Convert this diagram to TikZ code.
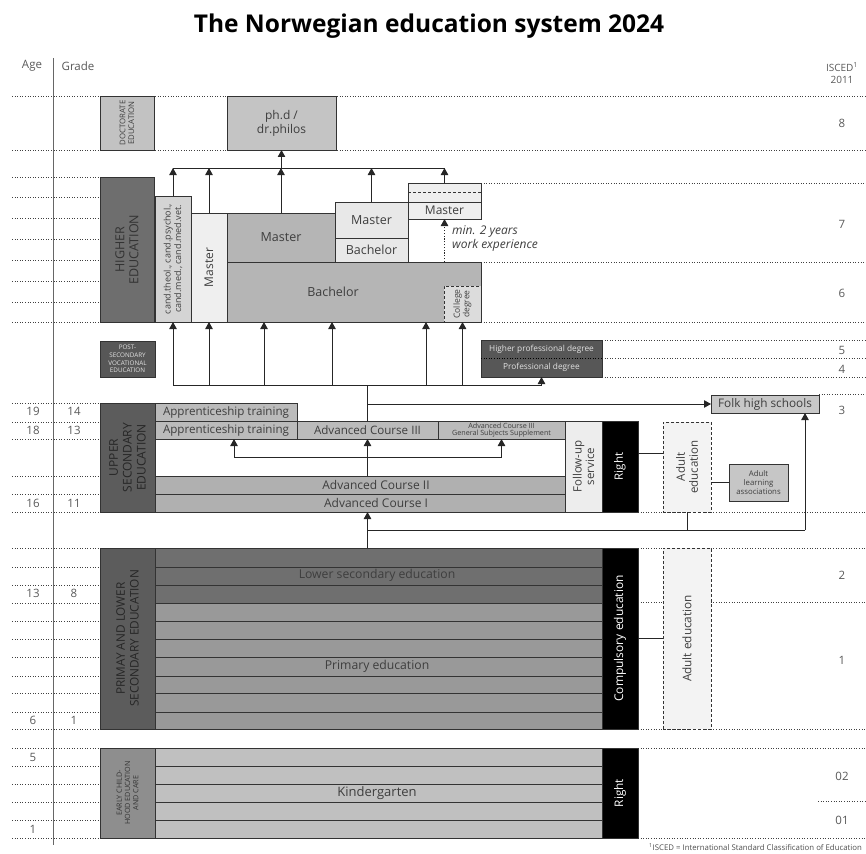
\documentclass[tikz,border=0pt]{standalone}
\usepackage{fontspec}
\setmainfont{Open Sans}
\usetikzlibrary{arrows.meta,fit}
\definecolor{tg}{HTML}{3E3E3E}
\definecolor{tl}{HTML}{E2E2E2}
\definecolor{cdoc}{HTML}{C2C2C2}
\definecolor{cphd}{HTML}{C4C4C4}
\definecolor{chigh}{HTML}{6E6E6E}
\definecolor{ccand}{HTML}{D4D4D4}
\definecolor{cmrot}{HTML}{EFEFEF}
\definecolor{cmast}{HTML}{B5B5B5}
\definecolor{cmb}{HTML}{E8E8E8}
\definecolor{ctr}{HTML}{EEEEEE}
\definecolor{ccol}{HTML}{DCDCDC}
\definecolor{cpost}{HTML}{575757}
\definecolor{cup}{HTML}{5C5C5C}
\definecolor{cappr}{HTML}{BBBBBB}
\definecolor{cadv}{HTML}{B0B0B0}
\definecolor{cfollow}{HTML}{EDEDED}
\definecolor{cadult}{HTML}{F3F3F3}
\definecolor{cassoc}{HTML}{C6C6C6}
\definecolor{cfolk}{HTML}{C8C8C8}
\definecolor{clower}{HTML}{6F6F6F}
\definecolor{cprim}{HTML}{999999}
\definecolor{cearly}{HTML}{8E8E8E}
\definecolor{ckg}{HTML}{C0C0C0}
\begin{document}
\begin{tikzpicture}[x=1pt,y=-1pt,
  box/.style={draw=black!80, line width=0.8pt, inner sep=0pt, outer sep=0pt},
  dbox/.style={box, dash pattern=on 3pt off 2pt},
  t/.style={text=tg, font=\fontsize{11.5}{13.5}\selectfont, align=center, inner sep=0pt},
  rot/.style={t, rotate=90},
  grid/.style={draw=black!75, line width=0.7pt, dash pattern=on 1pt off 1.6pt},
  conn/.style={draw=black!85, line width=0.8pt},
  arr/.style={conn, -{Triangle[width=7.5pt,length=7pt]}},
  rowline/.style={draw=black!80, line width=0.7pt},
  num/.style={text=black!65, font=\fontsize{11.5}{13}\selectfont, inner sep=0pt}
]
\useasboundingbox (0,0) rectangle (866,853);
% ---------- title
\node[font=\bfseries\fontsize{24.5}{28}\selectfont] (title) at (429,26) {The Norwegian education system 2024};
% ---------- headers
\node[num] (hage) at (32,66) {Age};
\node[num] (hgrade) at (78,66) {Grade};
\node[num, align=center, font=\fontsize{10}{12}\selectfont] (hisced) at (842,73) {ISCED\textsuperscript{1}\\2011};
\draw[draw=black!60, line width=1pt] (53,58) -- (53,845);
% ---------- dotted grid
\foreach \y in {177,197,218,239,260,281,302,322,403,422,439,476,494,512,548,567,585,603,621,639,657,676,693,712,729,748,766,784,802,820,838}
  \draw[grid] (12,\y) -- (100,\y);
\foreach \y in {96,150} \draw[grid] (12,\y) -- (866,\y);
\foreach \y in {183,262,322} \draw[grid] (481,\y) -- (866,\y);
\foreach \y in {340,358,377} \draw[grid] (602,\y) -- (866,\y);
\draw[grid] (819,394) -- (866,394);
\foreach \y in {512,548,602,729,748,838} \draw[grid] (638,\y) -- (866,\y);
\draw[grid] (818,801) -- (866,801);
% ---------- age / grade numbers
\node[num] at (33,411) {19}; \node[num] at (74,411) {14};
\node[num] at (33,430) {18}; \node[num] at (74,430) {13};
\node[num] at (33,503) {16}; \node[num] at (74,503) {11};
\node[num] at (33,593) {13}; \node[num] at (74,593) {8};
\node[num] at (33,720) {6};  \node[num] at (74,720) {1};
\node[num] at (33,757) {5};
\node[num] at (33,829) {1};
% ---------- ISCED numbers
\node[num] at (842,123) {8};
\node[num] at (842,224) {7};
\node[num] at (842,293) {6};
\node[num] at (842,350) {5};
\node[num] at (842,369) {4};
\node[num] at (842,410) {3};
\node[num] at (842,575) {2};
\node[num] at (842,660) {1};
\node[num] at (842,776) {02};
\node[num] at (842,820) {01};
% ---------- doctorate
\node[box, fill=cdoc, fit={(100,96)(154,150)}] (doc) {};
\node[rot, font=\fontsize{7.8}{8.8}\selectfont] at (doc) {DOCTORATE\\EDUCATION};
\node[box, fill=cphd, fit={(227,96)(336,150)}] (phd) {};
\node[t, font=\fontsize{12}{14}\selectfont] at (phd) {ph.d /\\dr.philos};
% ---------- higher education
\node[box, fill=chigh, fit={(100,177)(154,322)}] (high) {};
\node[rot, font=\fontsize{12.5}{14}\selectfont, text=black!80] at (high) {HIGHER\\EDUCATION};
\node[box, fill=ccand, fit={(155,196)(191,322)}] (cand) {};
\node[rot, font=\fontsize{9}{10.5}\selectfont] at (cand) {cand.theol., cand.psychol.,\\cand.med., cand.med.vet.};
\node[box, fill=cmrot, fit={(191,213)(227,322)}] (mrot) {};
\node[rot, font=\fontsize{12}{14}\selectfont] at (mrot) {Master};
\node[box, fill=cmast, fit={(227,262)(481,322)}] (bach) {};
\node[t, font=\fontsize{12.5}{14}\selectfont] at (333,292) {Bachelor};
\node[box, fill=cmast, fit={(227,213)(335,262)}] (mast) {};
\node[t, font=\fontsize{12.5}{14}\selectfont] at (mast) {Master};
\node[box, fill=cmb, fit={(335,202)(408,238)}] (mb1) {};
\node[t, font=\fontsize{12.5}{14}\selectfont] at (mb1) {Master};
\node[box, fill=cmb, fit={(335,238)(408,262)}] (mb2) {};
\node[t, font=\fontsize{12.5}{14}\selectfont] at (mb2) {Bachelor};
\node[box, fill=ctr, fit={(408,183)(481,219)}] (tr) {};
\draw[box, dash pattern=on 3pt off 2pt] (408,192.5) -- (481,192.5);
\draw[box] (408,202) -- (481,202);
\node[t, font=\fontsize{12}{13}\selectfont] at (444.5,210.5) {Master};
\node[dbox, fill=ccol, fit={(444,286)(481,322)}] (col) {};
\node[rot, font=\fontsize{8.5}{9.5}\selectfont] at (col) {College\\degree};
\node[t, anchor=north west, align=left, font=\itshape\fontsize{12}{14.5}\selectfont] (minwork) at (452,225) {min. 2 years\\work experience};
% ---------- post-secondary
\node[box, fill=cpost, fit={(100,341)(155,377)}] (post) {};
\node[t, text=tl, font=\fontsize{6.3}{7.6}\selectfont] at (post) {POST-\\SECONDARY\\VOCATIONAL\\EDUCATION};
\node[box, fill=cpost, fit={(481,340)(602,377)}] (hpd) {};
\draw[grid, draw=black] (481,358) -- (602,358);
\node[t, text=tl, font=\fontsize{8.3}{9}\selectfont] at (541.5,349) {Higher professional degree};
\node[t, text=tl, font=\fontsize{8.3}{9}\selectfont] at (541.5,367.5) {Professional degree};
% ---------- upper secondary
\node[box, fill=cup, fit={(100,403)(155,512)}] (upper) {};
\node[rot, font=\fontsize{12}{13.8}\selectfont, text=black!85] at (upper) {UPPER\\SECONDARY\\EDUCATION};
\node[box, fill=cappr, fit={(155,403)(297,421)}] (app1) {};
\node[t, font=\fontsize{11.6}{13}\selectfont] at (app1) {Apprenticeship training};
\node[box, fill=cappr, fit={(155,421)(297,439)}] (app2) {};
\node[t, font=\fontsize{11.6}{13}\selectfont] at (app2) {Apprenticeship training};
\node[box, fill=cappr, fit={(297,421)(438,439)}] (adv3) {};
\node[t, font=\fontsize{11.6}{13}\selectfont] at (adv3) {Advanced Course III};
\node[box, fill=cappr, fit={(438,421)(565,439)}] (gss) {};
\node[t, font=\fontsize{7.2}{7.6}\selectfont] at (gss) {Advanced Course III\\General Subjects Supplement};
\node[box, fill=cadv, fit={(155,476)(565,494)}] (adv2) {};
\node[t, font=\fontsize{12}{13}\selectfont] at (376,485) {Advanced Course II};
\node[box, fill=cadv, fit={(155,494)(565,512)}] (adv1) {};
\node[t, font=\fontsize{12}{13}\selectfont] at (376,503) {Advanced Course I};
\node[box, fill=cfollow, fit={(565,421)(602,512)}] (follow) {};
\node[rot, font=\fontsize{11.5}{12.5}\selectfont] at (follow) {Follow-up\\service};
\node[box, fill=black, fit={(602,421)(638,512)}] (right1) {};
\node[rot, text=white, font=\fontsize{11.5}{13}\selectfont] at (right1) {Right};
\node[dbox, fill=cadult, fit={(663,422)(711,512)}] (adult1) {};
\node[rot, font=\fontsize{11.5}{13}\selectfont] at (adult1) {Adult\\education};
\node[box, fill=cassoc, fit={(729,464)(788,501)}] (assoc) {};
\node[t, font=\fontsize{7.8}{8.6}\selectfont] at (assoc) {Adult\\learning\\associations};
\node[box, fill=cfolk, fit={(711,395)(819,413)}] (folk) {};
\node[t, font=\fontsize{11.8}{13}\selectfont] at (folk) {Folk high schools};
% ---------- primary / lower secondary
\node[box, fill=cup, fit={(100,548)(155,729)}] (prim) {};
\node[rot, font=\fontsize{11.8}{13.8}\selectfont, text=black!85] at (prim) {PRIMAY AND LOWER\\SECONDARY EDUCATION};
\node[box, fill=clower, fit={(155,548)(602,603)}] (lower) {};
\foreach \y in {567,585} \draw[rowline] (155,\y) -- (602,\y);
\node[t, font=\fontsize{12.2}{13}\selectfont] at (377,575.5) {Lower secondary education};
\node[box, fill=cprim, fit={(155,603)(602,729)}] (primary) {};
\foreach \y in {621,639,657,676,693,712} \draw[rowline] (155,\y) -- (602,\y);
\node[t, font=\fontsize{12.2}{13}\selectfont] at (377,666) {Primary education};
\node[box, fill=black, fit={(602,548)(638,729)}] (comp) {};
\node[rot, text=white, font=\fontsize{12}{14}\selectfont] at (comp) {Compulsory education};
\node[dbox, fill=cadult, fit={(663,548)(711,729)}] (adult2) {};
\node[rot, font=\fontsize{11.8}{13}\selectfont] at (adult2) {Adult education};
% ---------- early childhood
\node[box, fill=cearly, fit={(100,748)(155,838)}] (early) {};
\node[rot, font=\fontsize{7.2}{8.2}\selectfont, text=black!80] at (early) {EARLY CHILD-\\HOOD EDUCATION\\AND CARE};
\node[box, fill=ckg, fit={(155,748)(602,838)}] (kg) {};
\foreach \y in {766,784,802,820} \draw[rowline] (155,\y) -- (602,\y);
\node[t, font=\fontsize{13}{14}\selectfont] at (377,793) {Kindergarten};
\node[box, fill=black, fit={(602,748)(638,838)}] (right2) {};
\node[rot, text=white, font=\fontsize{11.8}{13}\selectfont] at (right2) {Right};
% ---------- footnote
\node[anchor=east, text=black!70, font=\fontsize{7.8}{9}\selectfont, inner sep=0pt] (foot) at (862,847) {\textsuperscript{1}ISCED = International Standard Classification of Education};
% ---------- connectors: to doctorate
\coordinate (busA) at (0,168);
\draw[conn] (cand.north |- busA) -- (tr.north |- busA);
\draw[arr] (cand.north) -- (cand.north |- busA);
\draw[arr] (mrot.north) -- (mrot.north |- busA);
\draw[arr] (mast.north) -- (mast.north |- busA);
\draw[arr] (mb1.north) -- (mb1.north |- busA);
\draw[arr] (tr.north) -- (tr.north |- busA);
\draw[arr] (phd.south |- busA) -- (phd.south);
\draw[arr, dash pattern=on 1.2pt off 1.6pt] (tr.south |- bach.north) -- (tr.south);
% ---------- connectors: into higher education
\coordinate (busB) at (0,385);
\coordinate (b1) at ([xshift=37pt]bach.south west);
\coordinate (b2) at ([xshift=105pt]bach.south west);
\coordinate (b3) at ([xshift=199pt]bach.south west);
\draw[conn] (cand.south |- busB) -- (hpd.south |- busB);
\draw[arr] (cand.south |- busB) -- (cand.south);
\draw[arr] (mrot.south |- busB) -- (mrot.south);
\draw[arr] (b1 |- busB) -- (b1);
\draw[arr] (b2 |- busB) -- (b2);
\draw[arr] (b3 |- busB) -- (b3);
\draw[arr] (col.south |- busB) -- (col.south);
\draw[arr] (hpd.south |- busB) -- (hpd.south);
\draw[conn] (adv3.north) -- (adv3.north |- busB);
\draw[arr] (adv3.north |- folk.west) -- (folk.west);
% ---------- connectors: upper secondary
\coordinate (busD) at (0,457);
\coordinate (a2) at ([xshift=79pt]app2.south west);
\draw[conn] (a2 |- busD) -- (gss.south |- busD);
\draw[arr] (a2 |- busD) -- (a2);
\draw[arr] (gss.south |- busD) -- (gss.south);
\draw[arr] (adv3.south |- adv2.north) -- (adv3.south);
\coordinate (r1) at (638,453);
\draw[conn] (r1) -- (r1 -| adult1.west);
\draw[conn] (assoc.west -| adult1.east) -- (assoc.west);
% ---------- connectors: from compulsory
\coordinate (busE) at (0,530);
\coordinate (f1) at ([xshift=94pt]folk.south west);
\draw[arr] (adv3.north |- lower.north) -- (adv3.north |- adv1.south);
\draw[conn] (adv3.north |- busE) -- (f1 |- busE);
\draw[arr] (f1 |- busE) -- (f1);
\draw[conn] (adult1.south |- busE) -- (adult1.south);
\draw[conn] (comp.east) -- (adult2.west);
\end{tikzpicture}
\end{document}
